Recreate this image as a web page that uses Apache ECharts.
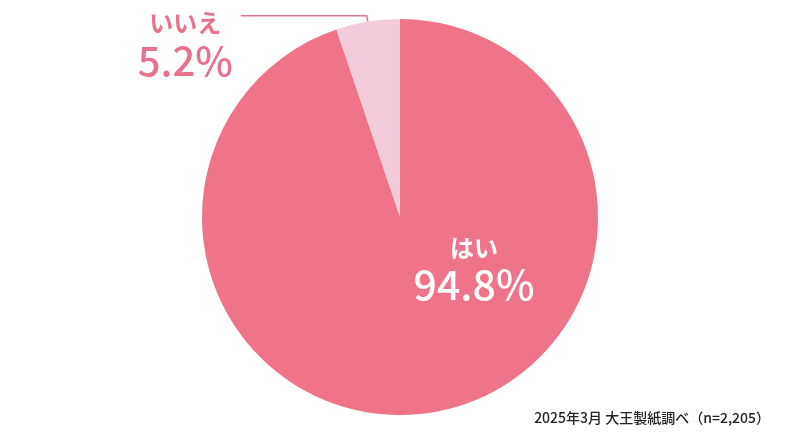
<!DOCTYPE html>
<html><head><meta charset="utf-8">
<script src="https://cdn.jsdelivr.net/npm/echarts@6/dist/echarts.min.js"></script>
<style>html,body{margin:0;padding:0;background:#fff}#c{width:800px;height:440px}</style>
</head><body><div id="c"></div>
<script>
const categories = ['はい', 'いいえ'];
const values = [94.8, 5.2];
const sourceNote = '2025年3月 大王製紙調べ（n=2,205）';
const colors = ['#F07489', '#F2CCDA'];

const font = '"Noto Sans CJK JP", "Noto Sans", sans-serif';
const chart = echarts.init(document.getElementById('c'));
chart.setOption({
  animation: false,
  title: {
    text: sourceNote,
    right: 25, bottom: 10,
    textStyle: { fontFamily: font, fontSize: 14, fontWeight: 500, color: '#222' }
  },
  series: [{
    type: 'pie',
    center: [400, 217],
    radius: [0, 198],
    startAngle: 90,
    clockwise: true,
    emphasis: { disabled: true },
    silent: true,
    data: categories.map((c, i) => {
      const item = { name: c, value: values[i], itemStyle: { color: colors[i] } };
      if (i === 0) {
        item.label = {
          show: true, position: 'center',
          formatter: p => '{a|' + p.name + '}\n{b|' + p.value + '%}',
          rich: {
            a: { fontFamily: font, fontSize: 24, fontWeight: 'bold', color: '#fff', lineHeight: 34 },
            b: { fontFamily: font, fontSize: 41, fontWeight: 500, color: '#fff', lineHeight: 38 }
          }
        };
        item.labelLine = { show: false };
      } else {
        item.label = {
          show: true, position: 'outside', alignTo: 'none', distanceToLabelLine: 8,
          formatter: p => '{a|' + p.name + '}\n{b|' + p.value + '%}',
          padding: [60, 0, 0, 0],
          rich: {
            a: { fontFamily: font, fontSize: 24, fontWeight: 'bold', color: '#E8728B', lineHeight: 30, align: 'center' },
            b: { fontFamily: font, fontSize: 40, fontWeight: 500, color: '#E8728B', lineHeight: 46, align: 'center' }
          }
        };
        item.labelLine = { show: true, length: 6, length2: 126, smooth: false, lineStyle: { color: '#E8728B', width: 1.5 } };
      }
      return item;
    }),
    labelLayout: function (params) {
      if (params.dataIndex === 0) return { dx: 74, dy: 50 };
      return {};
    }
  }]
});
</script>
</body></html>
